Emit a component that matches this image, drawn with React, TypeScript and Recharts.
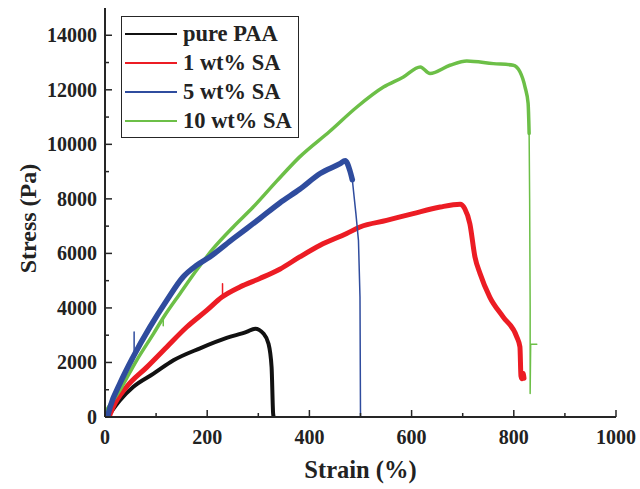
import { LineChart, Line, XAxis, YAxis, Legend } from 'recharts'

const FONT = "'Liberation Serif', 'Times New Roman', serif"
const FRAME = '#262626'

// strain (%) and stress (Pa) read along the centre of each trace
const paaStrain = [5, 10, 29, 55, 95, 134, 186, 238, 277, 294, 310, 320, 326, 329, 330]
const paaStress = [0, 135, 610, 1100, 1590, 2080, 2520, 2900, 3120, 3240, 3060, 2690, 1830, 135, 0]

const sa1Strain = [8, 16, 42, 82, 121, 160, 199, 229, 264, 303, 342, 381, 421, 473, 499, 551, 603, 656, 695, 704, 714, 724, 734, 753, 779, 806, 812, 814, 816, 818, 820]
const sa1Stress = [0, 370, 1100, 1830, 2570, 3300, 3910, 4400, 4770, 5080, 5420, 5870, 6300, 6730, 6970, 7210, 7460, 7700, 7800, 7640, 7090, 5870, 5260, 4400, 3670, 2930, 2570, 1500, 1400, 1600, 1420]

// 5 wt% and 10 wt%: loading part and the thin fracture drop
const sa5Strain = [5, 10, 29, 55, 88, 121, 153, 179, 205, 251, 303, 342, 381, 421, 460, 470, 479, 484]
const sa5Stress = [0, 370, 1220, 2200, 3300, 4280, 5140, 5560, 5870, 6540, 7280, 7850, 8350, 8930, 9290, 9400, 9050, 8700]
const sa5DropStrain = [484, 491, 496, 499, 500]
const sa5DropStress = [8700, 7460, 6480, 4400, 0]

const sa10Strain = [0, 3, 29, 62, 95, 114, 147, 179, 212, 251, 290, 336, 381, 440, 493, 545, 584, 617, 636, 675, 708, 760, 799, 812, 822, 828, 830]
const sa10Stress = [150, 245, 980, 2080, 3060, 3640, 4530, 5380, 6180, 6970, 7700, 8650, 9540, 10480, 11370, 12100, 12470, 12840, 12600, 12900, 13060, 12960, 12900, 12660, 12100, 11500, 10400]
const sa10DropStrain = [830, 831, 832, 832, 833, 845]
const sa10DropStress = [10400, 8000, 4000, 860, 2670, 2670]

// short single-sample glitches on the traces
const sa1SpikeStrain = [230, 230]
const sa1SpikeStress = [4400, 4890]
const sa5SpikeStrain = [57, 57]
const sa5SpikeStress = [2250, 3120]
const sa10SpikeStrain = [114, 114]
const sa10SpikeStress = [3650, 3350]

const strainTicks = [0, 100, 200, 300, 400, 500, 600, 700, 800, 900, 1000]
const stressTicks = [0, 1000, 2000, 3000, 4000, 5000, 6000, 7000, 8000, 9000, 10000, 11000, 12000, 13000, 14000]

const BLACK = '#111111'
const RED = '#ec1c24'
const BLUE = '#2f4c9e'
const GREEN = '#6cbf47'

const legendItems = [
  { name: 'pure PAA', color: BLACK },
  { name: '1 wt% SA', color: RED },
  { name: '5 wt% SA', color: BLUE },
  { name: '10 wt% SA', color: GREEN },
]

const zip = (xs: number[], ys: number[]) => xs.map((x, i) => ({ x, y: ys[i] }))

const paaData = zip(paaStrain, paaStress)
const sa1Data = zip(sa1Strain, sa1Stress)
const sa5Data = zip(sa5Strain, sa5Stress)
const sa5Drop = zip(sa5DropStrain, sa5DropStress)
const sa10Data = zip(sa10Strain, sa10Stress)
const sa10Drop = zip(sa10DropStrain, sa10DropStress)
const sa1Spike = zip(sa1SpikeStrain, sa1SpikeStress)
const sa5Spike = zip(sa5SpikeStrain, sa5SpikeStress)
const sa10Spike = zip(sa10SpikeStrain, sa10SpikeStress)

// ticks point into the plot; only every other one gets a label
const XTick = (props: any) => {
  const { x, y, payload } = props
  const major = payload.value % 200 === 0
  return (
    <g>
      <line x1={x} x2={x} y1={y} y2={y - (major ? 7 : 4)} stroke={FRAME} strokeWidth={1.5} />
      {major && (
        <text x={x} y={y + 27} textAnchor="middle" fontFamily={FONT} fontWeight="bold" fontSize={20} fill="#222">
          {payload.value}
        </text>
      )}
    </g>
  )
}

const YTick = (props: any) => {
  const { x, y, payload } = props
  const major = payload.value % 2000 === 0
  return (
    <g>
      <line x1={x} x2={x + (major ? 7 : 4)} y1={y} y2={y} stroke={FRAME} strokeWidth={1.5} />
      {major && (
        <text x={x - 8} y={y + 7} textAnchor="end" fontFamily={FONT} fontWeight="bold" fontSize={20} fill="#222">
          {payload.value}
        </text>
      )}
    </g>
  )
}

const LegendBox = () => (
  <div
    style={{
      border: `1.5px solid ${FRAME}`,
      background: '#fff',
      padding: '2px 6px 2px 3px',
      fontFamily: FONT,
      fontWeight: 'bold',
      fontSize: 22.5,
      color: '#222',
    }}
  >
    {legendItems.map((s) => (
      <div key={s.name} style={{ display: 'flex', alignItems: 'center', height: 29, whiteSpace: 'nowrap' }}>
        <span style={{ display: 'inline-block', width: 52, borderTop: `2px solid ${s.color}`, marginRight: 6 }} />
        <span>{s.name}</span>
      </div>
    ))}
  </div>
)

const traceProps = {
  dataKey: 'y',
  dot: false,
  isAnimationActive: false,
  strokeLinejoin: 'round' as const,
  strokeLinecap: 'round' as const,
}

export default function App() {
  return (
    <div style={{ position: 'absolute', left: 0, top: 0, background: '#fff' }}>
      <LineChart width={640} height={489} margin={{ top: 8, right: 24, bottom: 0, left: 0 }}>
        <XAxis
          dataKey="x"
          type="number"
          domain={[0, 1000]}
          ticks={strainTicks}
          interval={0}
          height={72}
          tickSize={0}
          tickMargin={0}
          tickLine={false}
          tick={<XTick />}
          axisLine={{ stroke: FRAME, strokeWidth: 2 }}
          allowDataOverflow
          label={{
            content: ({ viewBox }: any) => (
              <text
                x={viewBox.x + viewBox.width / 2}
                y={viewBox.y + 61}
                textAnchor="middle"
                fontFamily={FONT}
                fontWeight="bold"
                fontSize={24.5}
                fill="#222"
              >
                Strain (%)
              </text>
            ),
          }}
        />
        <XAxis xAxisId="top" orientation="top" type="number" domain={[0, 1000]} height={0} tick={false} tickLine={false} axisLine={{ stroke: FRAME, strokeWidth: 2 }} />
        <YAxis
          type="number"
          domain={[0, 15000]}
          ticks={stressTicks}
          interval={0}
          width={105}
          tickSize={0}
          tickMargin={0}
          tickLine={false}
          tick={<YTick />}
          axisLine={{ stroke: FRAME, strokeWidth: 2 }}
          allowDataOverflow
          label={{
            content: ({ viewBox }: any) => {
              const cx = viewBox.x + 28
              const cy = viewBox.y + viewBox.height / 2 + 6
              return (
                <text
                  x={cx}
                  y={cy}
                  transform={`rotate(-90 ${cx} ${cy})`}
                  textAnchor="middle"
                  dominantBaseline="central"
                  fontFamily={FONT}
                  fontWeight="bold"
                  fontSize={24}
                  fill="#222"
                >
                  Stress (Pa)
                </text>
              )
            },
          }}
        />
        <YAxis yAxisId="right" orientation="right" type="number" domain={[0, 15000]} width={0} tick={false} tickLine={false} axisLine={{ stroke: FRAME, strokeWidth: 2 }} />

        <Line {...traceProps} data={paaData} type="monotone" stroke={BLACK} strokeWidth={4} />
        <Line {...traceProps} data={sa1Data} type="monotone" stroke={RED} strokeWidth={5} />
        <Line {...traceProps} data={sa1Spike} type="linear" stroke={RED} strokeWidth={1.5} />
        <Line {...traceProps} data={sa10Data} type="monotone" stroke={GREEN} strokeWidth={3.5} />
        <Line {...traceProps} data={sa10Drop} type="linear" stroke={GREEN} strokeWidth={1.5} />
        <Line {...traceProps} data={sa10Spike} type="linear" stroke={GREEN} strokeWidth={1.5} />
        <Line {...traceProps} data={sa5Data} type="monotone" stroke={BLUE} strokeWidth={5.5} />
        <Line {...traceProps} data={sa5Drop} type="linear" stroke={BLUE} strokeWidth={1.5} />
        <Line {...traceProps} data={sa5Spike} type="linear" stroke={BLUE} strokeWidth={1.5} />

        <Legend
          layout="horizontal"
          verticalAlign="middle"
          align="center"
          content={<LegendBox />}
          wrapperStyle={{ left: 121, top: 16, width: 'auto', height: 'auto' }}
        />
      </LineChart>
    </div>
  )
}
